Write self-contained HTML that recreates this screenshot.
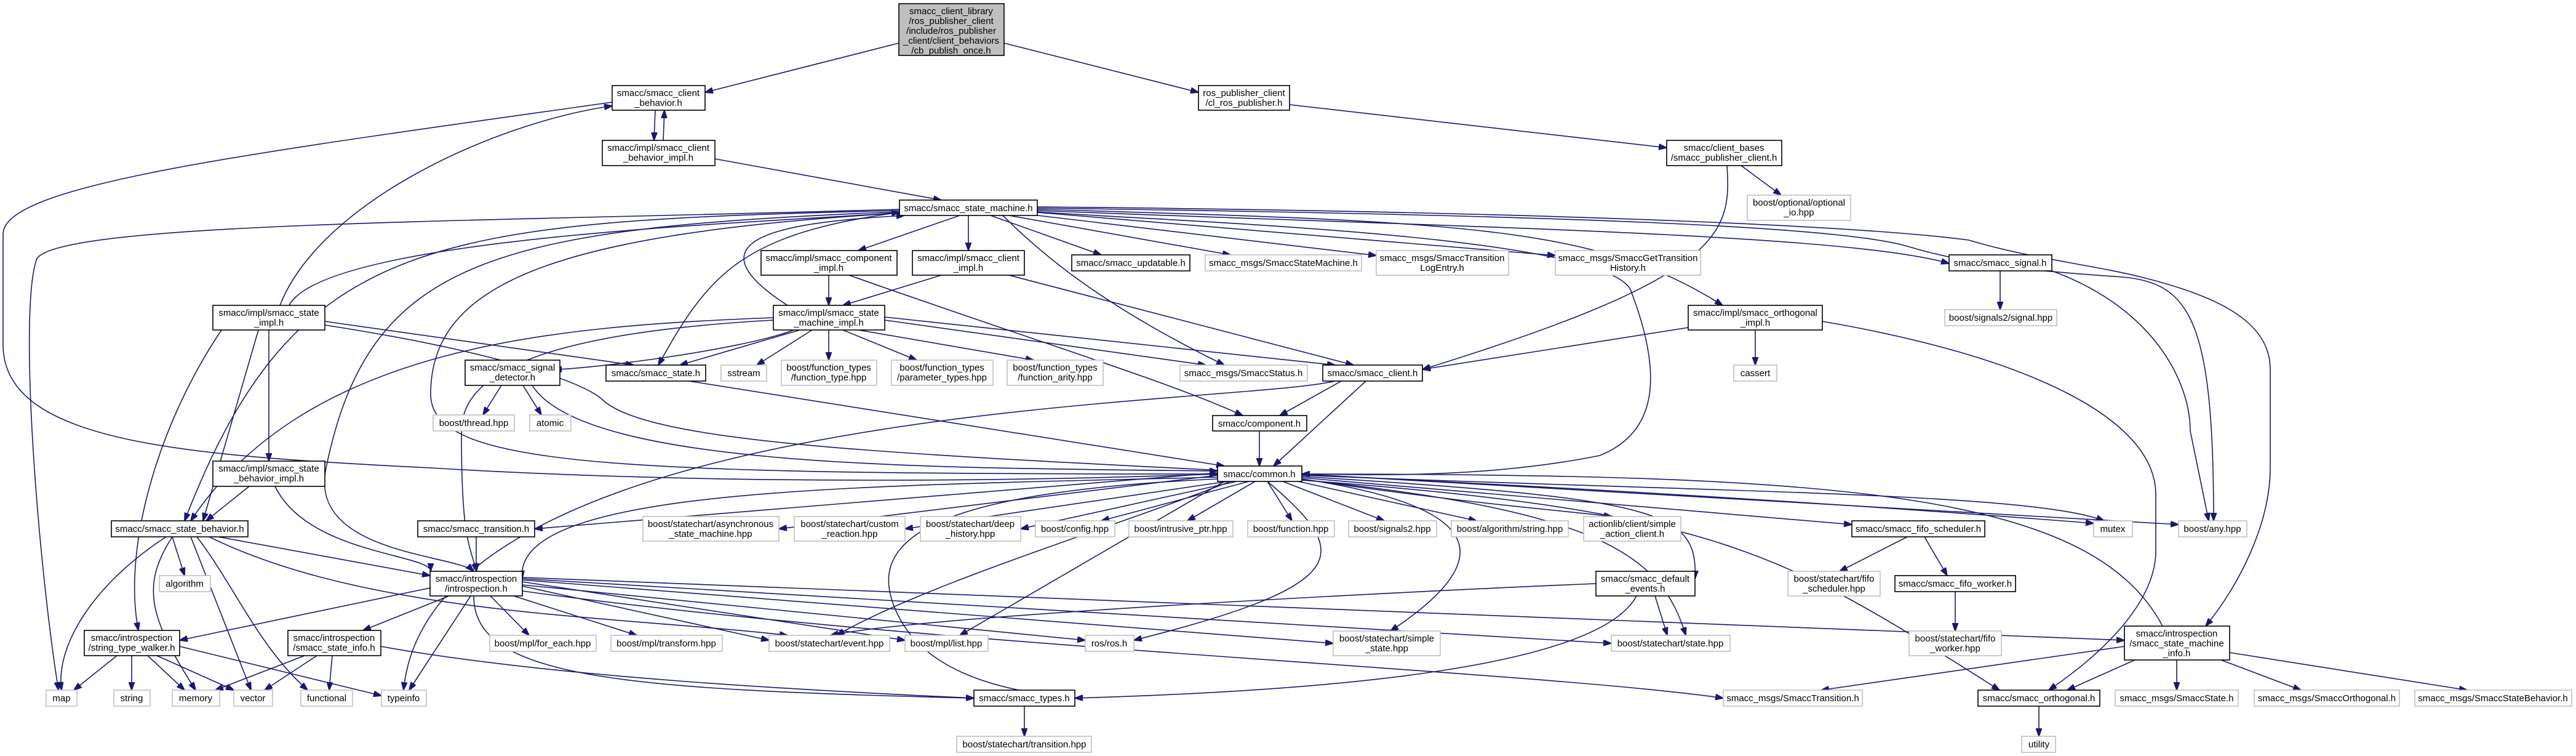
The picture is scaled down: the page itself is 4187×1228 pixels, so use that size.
<!DOCTYPE html>
<html><head><meta charset="utf-8"><style>
html,body{margin:0;padding:0;background:#fff;}
svg{display:block}
text{font-family:"Liberation Sans",sans-serif;font-size:15px;fill:#000;text-anchor:middle}
.e{fill:none;stroke:#191970;stroke-width:1.6}
.b{fill:#fff;stroke:#000;stroke-width:1.6}
.g{fill:#fff;stroke:#bfbfbf;stroke-width:1.6}
.r{fill:#bfbfbf;stroke:#000;stroke-width:1.6}
</style></head><body>
<svg width="4187" height="1228" viewBox="0 0 4187 1228" xmlns="http://www.w3.org/2000/svg">
<defs><marker id="a" markerWidth="14" markerHeight="10" refX="13" refY="5" orient="auto" markerUnits="userSpaceOnUse"><path d="M0,0 L14,5 L0,10 z" fill="#191970" stroke="#191970"/></marker></defs>
<g class="e" marker-end="url(#a)">
<path d="M1461,70 L1146,150"/>
<path d="M1632,70 L1948,150"/>
<path d="M2096,170 L2709,240"/>
<path d="M1065,179 L1063,228"/>
<path d="M1078,228 L1080,179"/>
<path d="M1162,258 L1530,325"/>
<path d="M995,166 C400,250 5,300 5,380 L5,560 C5,720 300,740 700,760 C1200,790 1700,780 1979,770"/>
<path d="M455,496 C520,330 800,200 995,172"/>
<path d="M2807,269 C2815,380 2800,450 2312,600"/>
<path d="M2830,269 L2895,317"/>
<path d="M1560,350 L1395,407"/>
<path d="M1574,350 L1574,407"/>
<path d="M1610,350 L1790,414"/>
<path d="M1640,350 L2000,414"/>
<path d="M1670,348 L2237,415"/>
<path d="M1686,345 L2528,415"/>
<path d="M1686,342 C2400,370 3000,380 3168,428"/>
<path d="M1686,340 C2400,360 2600,370 2800,496"/>
<path d="M1630,350 C1700,420 1800,500 1990,593"/>
<path d="M1462,345 C1200,380 1150,450 1070,593"/>
<path d="M1686,338 C2600,350 3000,370 3100,400 C3200,430 3300,440 3450,450 C3560,460 3598,520 3598,846"/>
<path d="M1686,336 C2600,345 3050,370 3200,390 C3300,420 3400,430 3480,450 C3600,480 3690,520 3690,600 L3690,760 C3690,850 3640,950 3585,1017"/>
<path d="M1462,340 C800,360 100,360 60,420 C30,500 60,900 95,1121"/>
<path d="M1462,342 C700,360 480,380 300,846"/>
<path d="M1462,344 C800,370 600,420 530,760 C500,900 740,900 770,928"/>
<path d="M1462,346 C900,380 700,460 700,640 C700,760 1000,770 1979,770"/>
<path d="M1686,344 C1900,360 2600,380 2650,470 C2700,600 2700,700 2600,740 C2400,780 2200,770 2116,770"/>
<path d="M1347,447 L1347,496"/>
<path d="M1380,447 C1700,560 1900,620 2020,675"/>
<path d="M1530,447 L1370,496"/>
<path d="M1640,447 L2200,593"/>
<path d="M1290,536 C1200,570 950,600 900,600"/>
<path d="M1300,536 L1105,593"/>
<path d="M1320,536 L1230,593"/>
<path d="M1347,536 L1347,585"/>
<path d="M1370,536 L1490,585"/>
<path d="M1395,536 L1680,585"/>
<path d="M1438,520 L1960,593"/>
<path d="M1438,515 L2170,593"/>
<path d="M1257,516 C900,530 500,560 310,846"/>
<path d="M1257,520 C900,540 750,600 750,700 C750,860 760,880 775,928"/>
<path d="M1280,496 C1100,380 1300,360 1470,350"/>
<path d="M528,522 L1030,593"/>
<path d="M528,528 C800,570 950,620 980,650 C1100,760 2000,740 3403,850"/>
<path d="M420,536 L330,846"/>
<path d="M437,536 L437,749"/>
<path d="M360,536 C250,700 200,900 225,1024"/>
<path d="M470,496 C530,380 1300,360 1462,345"/>
<path d="M2853,536 L2853,593"/>
<path d="M2770,528 L2312,600"/>
<path d="M2962,522 C3300,580 3500,680 3504,800 L3504,900 C3500,980 3420,1060 3330,1121"/>
<path d="M3251,440 L3251,503"/>
<path d="M3335,440 C3500,500 3560,620 3560,700 L3590,846"/>
<path d="M815,626 L785,674"/>
<path d="M850,626 L880,674"/>
<path d="M865,626 C950,760 1500,760 1979,765"/>
<path d="M1120,619 L1990,757"/>
<path d="M2180,619 L2080,675"/>
<path d="M2220,619 L2070,757"/>
<path d="M2170,619 C2000,660 700,650 656,1121"/>
<path d="M2047,700 L2047,757"/>
<path d="M405,790 L335,846"/>
<path d="M447,790 C500,900 700,900 700,928"/>
<path d="M280,872 L300,935"/>
<path d="M270,872 C150,950 90,1050 100,1121"/>
<path d="M280,872 C230,950 240,1000 318,1121"/>
<path d="M310,872 L408,1121"/>
<path d="M320,872 C380,950 420,1050 500,1121"/>
<path d="M355,872 L699,935"/>
<path d="M340,872 C600,1000 1000,1000 1280,1032"/>
<path d="M1979,768 L869,859"/>
<path d="M1979,772 L1266,859"/>
<path d="M1995,782 L1471,859"/>
<path d="M2010,782 L1659,859"/>
<path d="M2030,782 L1790,846"/>
<path d="M2040,782 L1930,846"/>
<path d="M2060,782 L2100,846"/>
<path d="M2085,782 L2250,846"/>
<path d="M2110,782 L2400,846"/>
<path d="M2116,778 C2400,820 2550,830 2620,839"/>
<path d="M2116,776 L3010,852"/>
<path d="M2116,772 C2800,800 3300,800 3420,846"/>
<path d="M2116,770 L3541,852"/>
<path d="M2116,774 C2700,810 2760,830 2755,940"/>
<path d="M2000,782 C1800,860 1500,950 1360,1032"/>
<path d="M1990,782 L1560,1032"/>
<path d="M2060,782 C2200,900 2200,950 1843,1040"/>
<path d="M2116,778 C2400,820 2450,900 2260,1025"/>
<path d="M2116,779 C2600,830 2700,900 2740,1032"/>
<path d="M2116,780 C2800,830 2900,900 3250,1121"/>
<path d="M1979,778 C1500,800 1400,880 1460,1000 C1500,1080 1600,1121 1747,1134"/>
<path d="M1979,775 C1400,790 830,790 849,940"/>
<path d="M774,872 L774,928"/>
<path d="M699,955 L292,1040"/>
<path d="M730,968 L590,1024"/>
<path d="M797,968 L860,1032"/>
<path d="M835,968 L1035,1032"/>
<path d="M849,952 L1250,1040"/>
<path d="M849,945 L1471,1040"/>
<path d="M849,950 L1764,1040"/>
<path d="M849,942 L2167,1045"/>
<path d="M849,940 L2619,1045"/>
<path d="M765,968 L665,1121"/>
<path d="M770,968 C770,1100 1000,1120 1583,1134"/>
<path d="M849,938 L3453,1040"/>
<path d="M849,960 C1500,1050 2500,1090 2801,1134"/>
<path d="M190,1065 L120,1121"/>
<path d="M214,1065 L214,1121"/>
<path d="M240,1065 L300,1121"/>
<path d="M255,1065 L380,1121"/>
<path d="M292,1050 L620,1130"/>
<path d="M495,1065 L350,1121"/>
<path d="M515,1065 L430,1121"/>
<path d="M540,1065 L535,1121"/>
<path d="M619,1050 C900,1100 1300,1121 1583,1134"/>
<path d="M2594,948 C2300,960 1500,1000 1350,1032"/>
<path d="M2690,968 L2710,1032"/>
<path d="M2660,968 C2600,1080 2200,1121 1747,1134"/>
<path d="M3100,872 L2990,928"/>
<path d="M3128,872 L3165,935"/>
<path d="M3178,961 L3178,1025"/>
<path d="M3453,1050 L2960,1121"/>
<path d="M3470,1072 L3360,1121"/>
<path d="M3538,1072 L3538,1121"/>
<path d="M3610,1072 L3740,1121"/>
<path d="M3624,1060 L4010,1121"/>
<path d="M3515,1017 C3400,800 3000,770 2116,770"/>
<path d="M1665,1147 L1665,1196"/>
<path d="M3314,1147 L3314,1196"/>
</g>
<g>
<rect class="r" x="1461" y="6" width="171" height="84"/>
<text x="1546" y="23">smacc_client_library</text><text x="1546" y="39">/ros_publisher_client</text><text x="1546" y="55">/include/ros_publisher</text><text x="1546" y="71">_client/client_behaviors</text><text x="1546" y="87">/cb_publish_once.h</text>
</g>
<g>
<rect class="b" x="995" y="139" width="151" height="40"/><text x="1070" y="156">smacc/smacc_client</text><text x="1070" y="172">_behavior.h</text>
<rect class="b" x="1948" y="139" width="148" height="40"/><text x="2022" y="156">ros_publisher_client</text><text x="2022" y="172">/cl_ros_publisher.h</text>
<rect class="b" x="979" y="228" width="183" height="41"/><text x="1070" y="245">smacc/impl/smacc_client</text><text x="1070" y="261">_behavior_impl.h</text>
<rect class="b" x="2709" y="228" width="187" height="41"/><text x="2802" y="245">smacc/client_bases</text><text x="2802" y="261">/smacc_publisher_client.h</text>
<rect class="b" x="1462" y="325" width="224" height="25"/><text x="1574" y="343">smacc/smacc_state_machine.h</text>
<rect class="g" x="2840" y="317" width="168" height="41"/><text x="2924" y="334">boost/optional/optional</text><text x="2924" y="350">_io.hpp</text>
<rect class="b" x="1237" y="407" width="221" height="40"/><text x="1347" y="424">smacc/impl/smacc_component</text><text x="1347" y="440">_impl.h</text>
<rect class="b" x="1483" y="407" width="182" height="40"/><text x="1574" y="424">smacc/impl/smacc_client</text><text x="1574" y="440">_impl.h</text>
<rect class="b" x="1742" y="414" width="192" height="26"/><text x="1838" y="432">smacc/smacc_updatable.h</text>
<rect class="g" x="1959" y="414" width="254" height="26"/><text x="2086" y="432">smacc_msgs/SmaccStateMachine.h</text>
<rect class="g" x="2237" y="407" width="215" height="40"/><text x="2344" y="424">smacc_msgs/SmaccTransition</text><text x="2344" y="440">LogEntry.h</text>
<rect class="g" x="2528" y="407" width="236" height="40"/><text x="2646" y="424">smacc_msgs/SmaccGetTransition</text><text x="2646" y="440">History.h</text>
<rect class="b" x="3168" y="414" width="167" height="26"/><text x="3251" y="432">smacc/smacc_signal.h</text>
<rect class="b" x="346" y="496" width="182" height="40"/><text x="437" y="513">smacc/impl/smacc_state</text><text x="437" y="529">_impl.h</text>
<rect class="b" x="1257" y="496" width="181" height="40"/><text x="1347" y="513">smacc/impl/smacc_state</text><text x="1347" y="529">_machine_impl.h</text>
<rect class="b" x="2744" y="496" width="218" height="40"/><text x="2853" y="513">smacc/impl/smacc_orthogonal</text><text x="2853" y="529">_impl.h</text>
<rect class="g" x="3161" y="503" width="182" height="26"/><text x="3252" y="521">boost/signals2/signal.hpp</text>
<rect class="b" x="756" y="585" width="154" height="41"/><text x="833" y="602">smacc/smacc_signal</text><text x="833" y="618">_detector.h</text>
<rect class="b" x="985" y="593" width="162" height="26"/><text x="1066" y="611">smacc/smacc_state.h</text>
<rect class="g" x="1172" y="593" width="74" height="26"/><text x="1209" y="611">sstream</text>
<rect class="g" x="1270" y="585" width="155" height="41"/><text x="1347" y="602">boost/function_types</text><text x="1347" y="618">/function_type.hpp</text>
<rect class="g" x="1449" y="585" width="165" height="41"/><text x="1531" y="602">boost/function_types</text><text x="1531" y="618">/parameter_types.hpp</text>
<rect class="g" x="1637" y="585" width="156" height="41"/><text x="1715" y="602">boost/function_types</text><text x="1715" y="618">/function_arity.hpp</text>
<rect class="g" x="1918" y="593" width="207" height="26"/><text x="2021" y="611">smacc_msgs/SmaccStatus.h</text>
<rect class="b" x="2150" y="593" width="162" height="26"/><text x="2231" y="611">smacc/smacc_client.h</text>
<rect class="g" x="2818" y="593" width="70" height="26"/><text x="2853" y="611">cassert</text>
<rect class="g" x="704" y="674" width="132" height="26"/><text x="770" y="692">boost/thread.hpp</text>
<rect class="g" x="861" y="674" width="67" height="26"/><text x="894" y="692">atomic</text>
<rect class="b" x="1971" y="675" width="153" height="25"/><text x="2047" y="693">smacc/component.h</text>
<rect class="b" x="346" y="749" width="182" height="41"/><text x="437" y="766">smacc/impl/smacc_state</text><text x="437" y="782">_behavior_impl.h</text>
<rect class="b" x="1979" y="757" width="137" height="25"/><text x="2047" y="775">smacc/common.h</text>
<rect class="b" x="181" y="846" width="222" height="26"/><text x="292" y="864">smacc/smacc_state_behavior.h</text>
<rect class="b" x="679" y="846" width="190" height="26"/><text x="774" y="864">smacc/smacc_transition.h</text>
<rect class="g" x="1045" y="839" width="221" height="40"/><text x="1155" y="856">boost/statechart/asynchronous</text><text x="1155" y="872">_state_machine.hpp</text>
<rect class="g" x="1291" y="839" width="180" height="40"/><text x="1381" y="856">boost/statechart/custom</text><text x="1381" y="872">_reaction.hpp</text>
<rect class="g" x="1496" y="839" width="163" height="40"/><text x="1577" y="856">boost/statechart/deep</text><text x="1577" y="872">_history.hpp</text>
<rect class="g" x="1683" y="846" width="129" height="26"/><text x="1747" y="864">boost/config.hpp</text>
<rect class="g" x="1835" y="846" width="169" height="26"/><text x="1919" y="864">boost/intrusive_ptr.hpp</text>
<rect class="g" x="2028" y="846" width="141" height="26"/><text x="2098" y="864">boost/function.hpp</text>
<rect class="g" x="2192" y="846" width="143" height="26"/><text x="2263" y="864">boost/signals2.hpp</text>
<rect class="g" x="2359" y="846" width="190" height="26"/><text x="2454" y="864">boost/algorithm/string.hpp</text>
<rect class="g" x="2574" y="839" width="158" height="40"/><text x="2653" y="856">actionlib/client/simple</text><text x="2653" y="872">_action_client.h</text>
<rect class="b" x="3010" y="846" width="216" height="26"/><text x="3118" y="864">smacc/smacc_fifo_scheduler.h</text>
<rect class="g" x="3403" y="846" width="63" height="26"/><text x="3434" y="864">mutex</text>
<rect class="g" x="3541" y="846" width="111" height="26"/><text x="3596" y="864">boost/any.hpp</text>
<rect class="g" x="259" y="935" width="83" height="26"/><text x="300" y="953">algorithm</text>
<rect class="b" x="699" y="928" width="150" height="40"/><text x="774" y="945">smacc/introspection</text><text x="774" y="961">/introspection.h</text>
<rect class="b" x="2594" y="928" width="161" height="40"/><text x="2674" y="945">smacc/smacc_default</text><text x="2674" y="961">_events.h</text>
<rect class="g" x="2906" y="928" width="150" height="40"/><text x="2981" y="945">boost/statechart/fifo</text><text x="2981" y="961">_scheduler.hpp</text>
<rect class="b" x="3080" y="935" width="196" height="26"/><text x="3178" y="953">smacc/smacc_fifo_worker.h</text>
<rect class="b" x="137" y="1024" width="155" height="41"/><text x="214" y="1041">smacc/introspection</text><text x="214" y="1057">/string_type_walker.h</text>
<rect class="b" x="468" y="1024" width="151" height="41"/><text x="543" y="1041">smacc/introspection</text><text x="543" y="1057">/smacc_state_info.h</text>
<rect class="g" x="796" y="1032" width="173" height="26"/><text x="882" y="1050">boost/mpl/for_each.hpp</text>
<rect class="g" x="993" y="1032" width="181" height="26"/><text x="1083" y="1050">boost/mpl/transform.hpp</text>
<rect class="g" x="1250" y="1032" width="196" height="26"/><text x="1348" y="1050">boost/statechart/event.hpp</text>
<rect class="g" x="1471" y="1032" width="135" height="26"/><text x="1538" y="1050">boost/mpl/list.hpp</text>
<rect class="g" x="1764" y="1032" width="79" height="26"/><text x="1803" y="1050">ros/ros.h</text>
<rect class="g" x="2167" y="1025" width="174" height="40"/><text x="2254" y="1042">boost/statechart/simple</text><text x="2254" y="1058">_state.hpp</text>
<rect class="g" x="2619" y="1032" width="193" height="26"/><text x="2715" y="1050">boost/statechart/state.hpp</text>
<rect class="g" x="3103" y="1025" width="150" height="40"/><text x="3178" y="1042">boost/statechart/fifo</text><text x="3178" y="1058">_worker.hpp</text>
<rect class="b" x="3453" y="1017" width="171" height="55"/><text x="3538" y="1034">smacc/introspection</text><text x="3538" y="1050">/smacc_state_machine</text><text x="3538" y="1066">_info.h</text>
<rect class="g" x="75" y="1121" width="50" height="26"/><text x="100" y="1139">map</text>
<rect class="g" x="185" y="1121" width="59" height="26"/><text x="214" y="1139">string</text>
<rect class="g" x="280" y="1121" width="77" height="26"/><text x="318" y="1139">memory</text>
<rect class="g" x="380" y="1121" width="63" height="26"/><text x="411" y="1139">vector</text>
<rect class="g" x="489" y="1121" width="84" height="26"/><text x="531" y="1139">functional</text>
<rect class="g" x="620" y="1121" width="73" height="26"/><text x="656" y="1139">typeinfo</text>
<rect class="b" x="1583" y="1121" width="164" height="26"/><text x="1665" y="1139">smacc/smacc_types.h</text>
<rect class="g" x="2801" y="1121" width="226" height="26"/><text x="2914" y="1139">smacc_msgs/SmaccTransition.h</text>
<rect class="b" x="3215" y="1121" width="198" height="26"/><text x="3314" y="1139">smacc/smacc_orthogonal.h</text>
<rect class="g" x="3438" y="1121" width="200" height="26"/><text x="3538" y="1139">smacc_msgs/SmaccState.h</text>
<rect class="g" x="3664" y="1121" width="236" height="26"/><text x="3782" y="1139">smacc_msgs/SmaccOrthogonal.h</text>
<rect class="g" x="3925" y="1121" width="255" height="26"/><text x="4052" y="1139">smacc_msgs/SmaccStateBehavior.h</text>
<rect class="g" x="1555" y="1196" width="219" height="26"/><text x="1665" y="1214">boost/statechart/transition.hpp</text>
<rect class="g" x="3286" y="1196" width="55" height="26"/><text x="3314" y="1214">utility</text>
</g>
</svg>
</body></html>
